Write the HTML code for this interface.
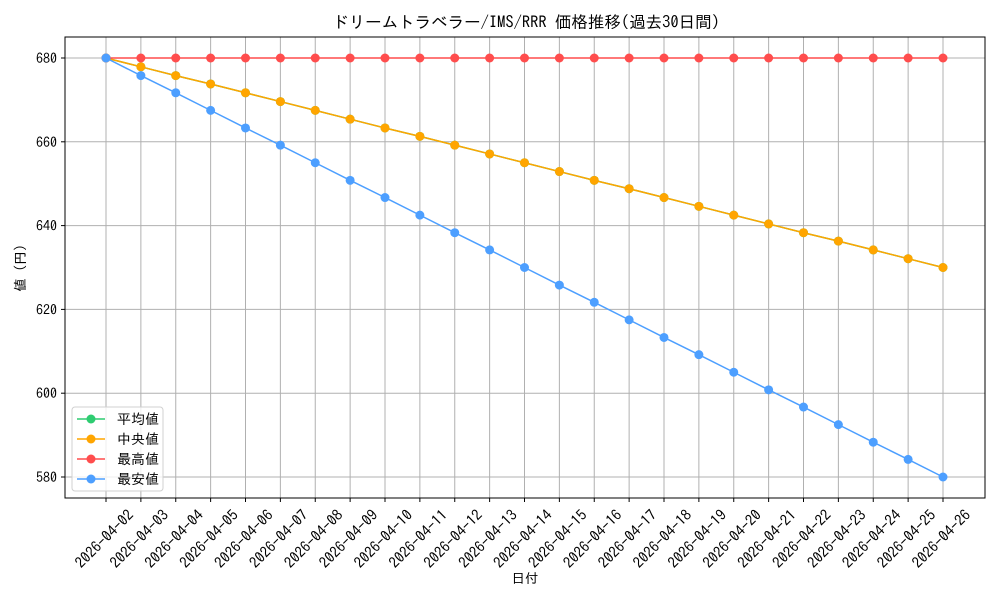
<!DOCTYPE html>
<html><head><meta charset="utf-8"><style>
body{margin:0;background:#fff;width:1000px;height:600px;overflow:hidden}
svg text{font-family:"IPAGothic","Liberation Sans","Noto Sans CJK JP",sans-serif;fill:#000}
</style></head><body>
<svg id="chart" width="1000" height="600"></svg>
<script>
const categories=["2026-04-02","2026-04-03","2026-04-04","2026-04-05","2026-04-06","2026-04-07","2026-04-08","2026-04-09","2026-04-10","2026-04-11","2026-04-12","2026-04-13","2026-04-14","2026-04-15","2026-04-16","2026-04-17","2026-04-18","2026-04-19","2026-04-20","2026-04-21","2026-04-22","2026-04-23","2026-04-24","2026-04-25","2026-04-26"];
const meanValues=[680,677.9,675.8,673.8,671.7,669.6,667.5,665.4,663.3,661.3,659.2,657.1,655.0,652.9,650.8,648.8,646.7,644.6,642.5,640.4,638.3,636.3,634.2,632.1,630.0];
const medianValues=[680,677.9,675.8,673.8,671.7,669.6,667.5,665.4,663.3,661.3,659.2,657.1,655.0,652.9,650.8,648.8,646.7,644.6,642.5,640.4,638.3,636.3,634.2,632.1,630.0];
const maxValues=[680,680,680,680,680,680,680,680,680,680,680,680,680,680,680,680,680,680,680,680,680,680,680,680,680];
const minValues=[680,675.8,671.7,667.5,663.3,659.2,655.0,650.8,646.7,642.5,638.3,634.2,630.0,625.8,621.7,617.5,613.3,609.2,605.0,600.8,596.7,592.5,588.3,584.2,580.0];
const yTicks=[580,600,620,640,660,680];
const seriesNames=["平均値","中央値","最高値","最安値"];

const NS="http://www.w3.org/2000/svg";
const svg=document.getElementById('chart');
const L=65,R=985,T=37,B=498;
const x=i=>106+i*(943-106)/(categories.length-1);
const y=v=>58+(680-v)*(477-58)/100;
function mk(tag,attrs,parent){const e=document.createElementNS(NS,tag);for(const k in attrs)e.setAttribute(k,attrs[k]);(parent||svg).appendChild(e);return e;}

categories.forEach((c,i)=>{
  const g=mk('line',{x1:x(i),x2:x(i),y1:T,y2:B,stroke:'#b0b0b0','stroke-width':1});
  
  
  const t=mk('line',{x1:x(i),x2:x(i),y1:B,y2:B+4,stroke:'#000'});
  
  
  const cx=x(i)-1.5,cy=539;
  const tx=mk('text',{x:cx,y:cy+5,'font-size':15,'text-anchor':'middle',transform:`rotate(-45 ${cx} ${cy})`});
  tx.textContent=c;
  
  
});
yTicks.forEach(v=>{
  const g=mk('line',{x1:L,x2:R,y1:y(v),y2:y(v),stroke:'#b0b0b0','stroke-width':1});
  
  
  const t=mk('line',{x1:L-4,x2:L,y1:y(v),y2:y(v),stroke:'#000'});
  
  
  const tx=mk('text',{x:L-8,y:y(v)+5,'font-size':14,'text-anchor':'end'});
  tx.textContent=v;
  
  
});

const series=[[meanValues,'#2ecc71','mean'],[medianValues,'#ffa500','median'],[maxValues,'#ff4d4d','max'],[minValues,'#4d9fff','min']];
series.forEach(([vals,col,nm])=>{
  const g=mk('g',{});
  
  
  const p=mk('polyline',{points:vals.map((v,i)=>x(i)+','+y(v)).join(' '),fill:'none',stroke:col,'stroke-width':1.5},g);
  
  
  vals.forEach((v,i)=>{
    const c=mk('circle',{cx:x(i),cy:y(v),r:4.5,fill:col},g);
    
    
  });
});

const frame=mk('rect',{x:L,y:T,width:R-L,height:B-T,fill:'none',stroke:'#000','stroke-width':1});



const title=mk('text',{x:526,y:28,'font-size':16.5,'text-anchor':'middle'});
title.textContent='ドリームトラベラー/IMS/RRR 価格推移(過去30日間)';


const xt=mk('text',{x:525,y:583,'font-size':13.5,'text-anchor':'middle'});
xt.textContent='日付';


const yt=mk('text',{x:25,y:268,'font-size':13.5,'text-anchor':'middle',transform:'rotate(-90 25 268)'});
yt.textContent='値 (円)';



const lg=mk('g',{});


const lb=mk('rect',{x:72,y:407,width:91,height:84,rx:3,fill:'#fff','fill-opacity':0.8,stroke:'#d0d0d0'},lg);


seriesNames.forEach((n,i)=>{
  const yy=419+i*20;
  const e=mk('g',{},lg);
  
  
  mk('line',{x1:77,x2:105,y1:yy,y2:yy,stroke:series[i][1],'stroke-width':1.5},e);
  mk('circle',{cx:91,cy:yy,r:4.5,fill:series[i][1]},e);
  const t=mk('text',{x:117,y:yy+5,'font-size':14},e);
  t.textContent=n;
});
</script>
</body></html>
